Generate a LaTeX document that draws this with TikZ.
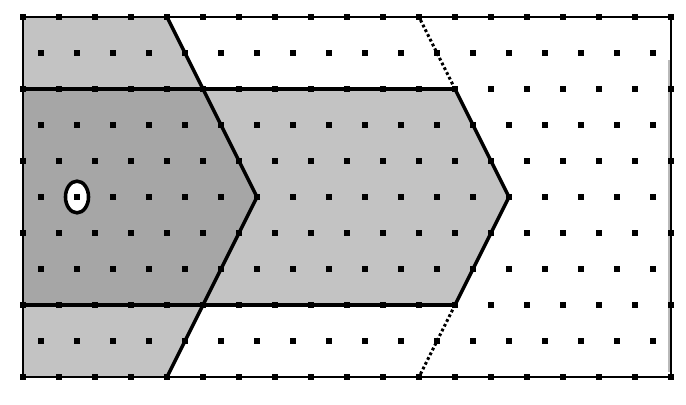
\documentclass[tikz,border=0pt]{standalone}
\usetikzlibrary{shapes.geometric}
\begin{document}
\begin{tikzpicture}[x=1cm,y=1cm,
  framestyle/.style={line width=2.2pt},
  bandline/.style={line width=2.4pt},
  chevline/.style={line width=2.8pt, line join=miter},
  dotstyle/.style={line width=2.4pt, dash pattern=on 2.2pt off 2pt},
  latticedot/.style={fill=black},
  markerstyle/.style={draw=black, fill=white, line width=2.8pt}]
\definecolor{darkfill}{RGB}{166,166,166}
\definecolor{lightfill}{RGB}{195,195,195}
\useasboundingbox (-0.639,-0.778) rectangle (18.417,10.472);
\fill[white] (-0.639,-0.778) rectangle (18.417,10.472);
% fills
\fill[lightfill] (0,8) -- (0,10) -- (4,10) -- (5,8) -- cycle;
\fill[lightfill] (0,0) -- (0,2) -- (5,2) -- (4,0) -- cycle;
\fill[lightfill] (5,8) -- (12,8) -- (13.5,5) -- (12,2) -- (5,2) -- (6.5,5) -- cycle;
\fill[darkfill] (0,2) -- (0,8) -- (5,8) -- (6.5,5) -- (5,2) -- cycle;
% faint grey edge inside the right border
\draw[gray!55, line width=1.2pt] (17.94,0.15) -- (17.94,8.8);
% lines
\draw[framestyle] (0,0) rectangle (18,10);
\draw[bandline] (0,8) -- (12,8);
\draw[bandline] (0,2) -- (12,2);
\draw[chevline] (4,10) -- (6.5,5) -- (4,0);
\draw[chevline] (12,8) -- (13.5,5) -- (12,2);
\draw[dotstyle] (12,8) -- (11,10);
\draw[dotstyle] (12,2) -- (11,0);
% lattice dots
\foreach \yy in {0,2,4,6,8,10} {
  \foreach \xx in {0,...,18} {
    \fill[latticedot] (\xx-0.085,\yy-0.075) rectangle (\xx+0.085,\yy+0.075);
  }
}
\foreach \yy in {1,3,5,7,9} {
  \foreach \xx in {0,...,17} {
    \fill[latticedot] (\xx+0.5-0.085,\yy-0.075) rectangle (\xx+0.5+0.085,\yy+0.075);
  }
}
% marker
\node[markerstyle, ellipse, minimum width=0.64cm, minimum height=0.88cm, inner sep=0pt] (marker) at (1.5,5) {};
\fill[latticedot] (1.415,4.925) rectangle (1.585,5.075);
\end{tikzpicture}
\end{document}
